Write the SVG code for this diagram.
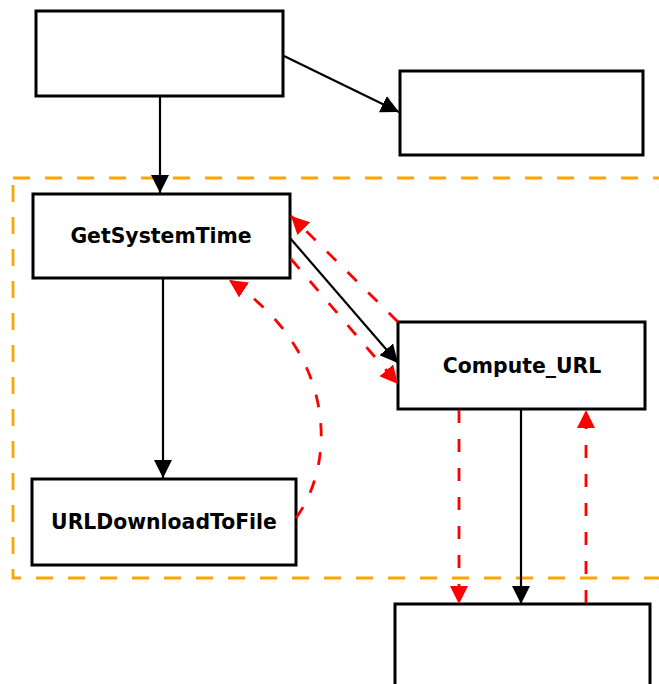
<svg xmlns="http://www.w3.org/2000/svg" width="659" height="684" viewBox="0 0 659 684">
<style>
.node{fill:#fff;stroke:#000;stroke-width:3}
.lbl{font-family:"DejaVu Sans",sans-serif;font-weight:bold;font-size:20.4px;fill:#000;text-anchor:middle}
.e{fill:none;stroke:#000;stroke-width:2.2}
.r{fill:none;stroke:#f00;stroke-width:2.8;stroke-dasharray:13,16}
.cl{fill:none;stroke:#ffa500;stroke-width:2.8;stroke-dasharray:17,15}
</style>
<defs>
<marker id="ab" markerUnits="userSpaceOnUse" markerWidth="18" markerHeight="18" refX="18" refY="9" orient="auto"><path d="M0,0 L18,9 L0,18 z" fill="#000"/></marker>
<marker id="ar" markerUnits="userSpaceOnUse" markerWidth="18" markerHeight="18" refX="18" refY="9" orient="auto"><path d="M0,0 L18,9 L0,18 z" fill="#f00"/></marker>
</defs>
<rect class="cl" x="13" y="178" width="700" height="400"/>
<g id="n_top"><rect class="node" x="36" y="11" width="247" height="85"/></g>
<g id="n_topright"><rect class="node" x="400" y="71" width="243" height="84"/></g>
<g id="n_gst"><rect class="node" x="33" y="194" width="257" height="84"/><text class="lbl" x="161" y="243">GetSystemTime</text></g>
<g id="n_curl"><rect class="node" x="398" y="322" width="247" height="87"/><text class="lbl" x="522" y="373">Compute_URL</text></g>
<g id="n_urld"><rect class="node" x="32" y="479" width="264" height="86"/><text class="lbl" x="164" y="529">URLDownloadToFile</text></g>
<g id="n_bottom"><rect class="node" x="395" y="604" width="255" height="100"/></g>
<g id="edges">
<line class="e" x1="160" y1="96" x2="160" y2="193" marker-end="url(#ab)"/>
<line class="e" x1="284" y1="56" x2="399" y2="112" marker-end="url(#ab)"/>
<line class="e" x1="163" y1="278" x2="163" y2="478" marker-end="url(#ab)"/>
<line class="e" x1="290" y1="238" x2="398" y2="363" marker-end="url(#ab)"/>
<line class="r" x1="398" y1="322" x2="291" y2="216" marker-end="url(#ar)"/>
<line class="r" x1="291" y1="259" x2="398" y2="384" marker-end="url(#ar)"/>
<path class="r" d="M296,518 C338,460 335,350 229,280" marker-end="url(#ar)"/>
<line class="r" x1="459" y1="410" x2="459" y2="604" marker-end="url(#ar)"/>
<line class="e" x1="521" y1="410" x2="521" y2="604" marker-end="url(#ab)"/>
<line class="r" x1="586" y1="603" x2="586" y2="410" marker-end="url(#ar)"/>
</g>
</svg>
